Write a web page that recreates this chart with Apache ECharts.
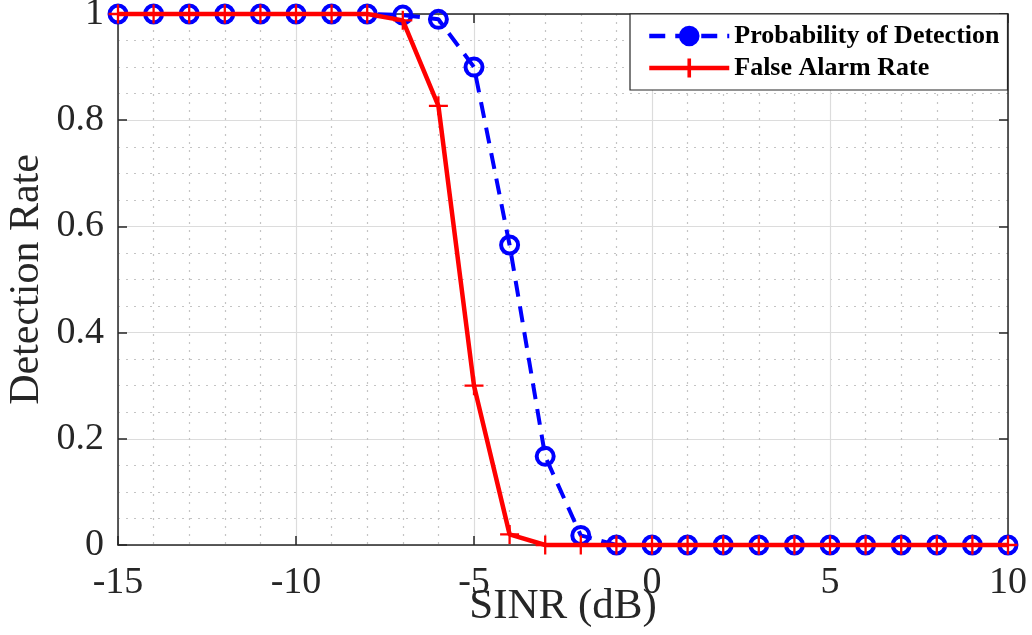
<!DOCTYPE html>
<html><head><meta charset="utf-8">
<script src="https://cdn.jsdelivr.net/npm/echarts@6/dist/echarts.min.js"></script>
<style>html,body{margin:0;padding:0;background:#fff}#c{width:1032px;height:635px}</style>
</head><body><div id="c"></div>
<script>
const sinr = [-15,-14,-13,-12,-11,-10,-9,-8,-7,-6,-5,-4,-3,-2,-1,0,1,2,3,4,5,6,7,8,9,10];
const pd  = [1,1,1,1,1,1,1,1,0.998,0.99,0.9,0.565,0.167,0.018,0,0,0,0,0,0,0,0,0,0,0,0];
const pfa = [1,1,1,1,1,1,1,1,0.988,0.827,0.3,0.02,0,0,0,0,0,0,0,0,0,0,0,0,0,0];
const names = ['Probability of Detection','False Alarm Rate'];
const font = 'Liberation Serif';
const plus = 'path://M-1,-0.12 L1,-0.12 L1,0.12 L-1,0.12 Z M-0.12,-1 L0.12,-1 L0.12,1 L-0.12,1 Z';
const chart = echarts.init(document.getElementById('c'));
const common = {
  axisLine:{show:true,onZero:false,lineStyle:{color:'#262626',width:1.5}},
  axisTick:{show:true,inside:true,length:9,lineStyle:{color:'#262626',width:1.5}},
};
chart.setOption({
  animation:false,
  grid:{left:118,right:24,top:14,bottom:90,outerBoundsMode:'none',containLabel:false},
  legend:{
    left:630, top:14, orient:'vertical',
    backgroundColor:'#fff', borderColor:'#262626', borderWidth:1.2,
    padding:[9,8,9,17], itemGap:6, itemWidth:80, itemHeight:22,
    lineStyle:{width:4.5},
    textStyle:{fontFamily:font,fontWeight:'bold',fontSize:26,color:'#000'},
    data:[
      {name:names[0], itemStyle:{color:'#0000ff',borderWidth:3}},
      {name:names[1], itemStyle:{borderWidth:1.5,borderColor:'#ff0000'}}
    ]
  },
  xAxis:[{
    type:'value', min:-15, max:10, interval:5,
    name:'SINR (dB)', nameLocation:'middle', nameGap:40, nameMoveOverlap:false,
    nameTextStyle:{fontFamily:font,fontSize:43,color:'#262626'},
    axisLabel:{fontFamily:font,fontSize:38,color:'#262626',margin:19},
    ...common,
    splitLine:{show:true,lineStyle:{color:'#dcdcdc',width:1.2}},
    minorTick:{show:false,splitNumber:5},
    minorSplitLine:{show:true,lineStyle:{color:'#c4c4c4',type:[2,6],width:1.2}}
  },{
    type:'value', min:-15, max:10, interval:5, position:'top',
    axisLabel:{show:false}, splitLine:{show:false}, ...common
  }],
  yAxis:[{
    type:'value', min:0, max:1, interval:0.2,
    name:'Detection Rate', nameLocation:'middle', nameGap:70, nameMoveOverlap:false,
    nameTextStyle:{fontFamily:font,fontSize:42,color:'#262626'},
    axisLabel:{fontFamily:font,fontSize:38,color:'#262626',margin:14,
      formatter:v=>String(Math.round(v*10)/10)},
    ...common,
    splitLine:{show:true,lineStyle:{color:'#dcdcdc',width:1.2}},
    minorTick:{show:false,splitNumber:4},
    minorSplitLine:{show:true,lineStyle:{color:'#c4c4c4',type:[2,6],width:1.2}}
  },{
    type:'value', min:0, max:1, interval:0.2, position:'right',
    axisLabel:{show:false}, splitLine:{show:false}, ...common
  }],
  series:[{
    name:names[0], type:'line', data:sinr.map((x,i)=>[x,pd[i]]),
    symbol:'circle', symbolSize:17, showAllSymbol:true,
    lineStyle:{color:'#0000ff',width:4,type:[16,10]},
    itemStyle:{color:'rgba(255,255,255,0)',borderColor:'#0000ff',borderWidth:4},
    clip:false, z:2
  },{
    name:names[1], type:'line', data:sinr.map((x,i)=>[x,pfa[i]]),
    symbol:plus, symbolSize:19, showAllSymbol:true,
    lineStyle:{color:'#ff0000',width:4.5},
    itemStyle:{color:'#ff0000'},
    clip:false, z:3
  }]
});
</script></body></html>
